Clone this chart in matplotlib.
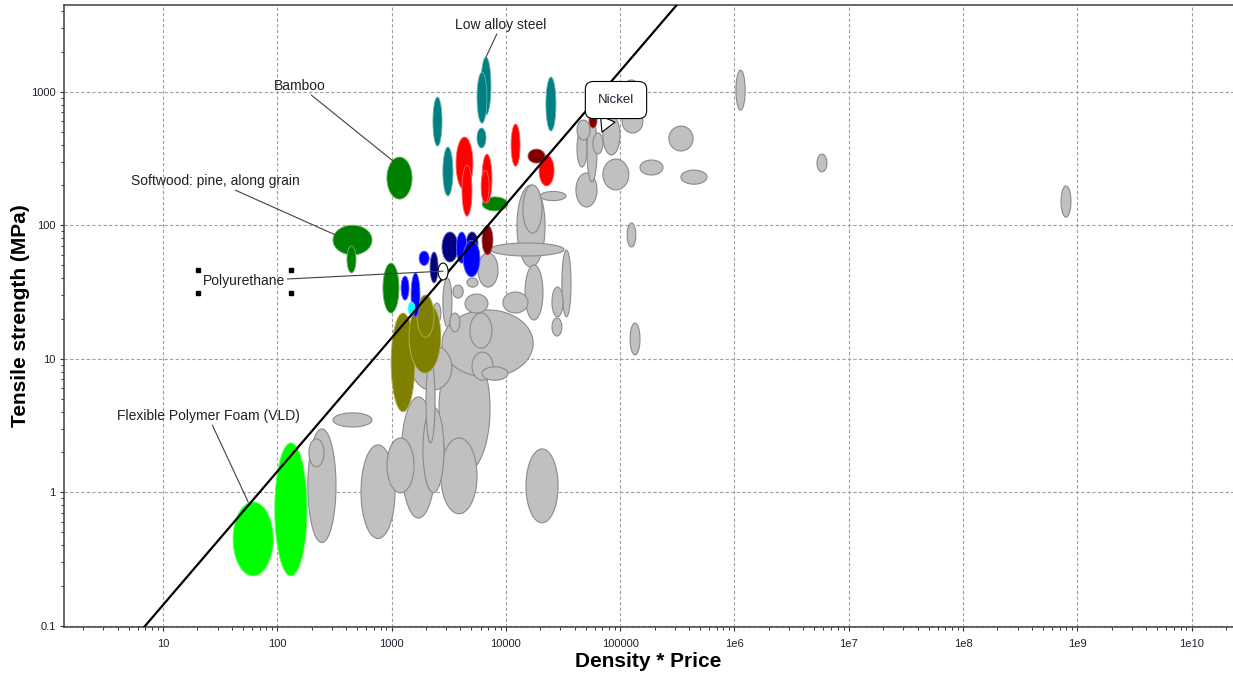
import numpy as np
import matplotlib.pyplot as plt
from matplotlib import colors as mcolors
from matplotlib.ticker import FixedLocator, LogLocator, NullFormatter
from matplotlib.transforms import offset_copy

plt.rcParams['font.family'] = ['Liberation Sans', 'DejaVu Sans']

# each bubble: (density*price low, high, tensile strength low, high)
grey = [
    (185, 326, 0.42, 2.98), (189, 256, 1.55, 2.51), (307, 674, 3.08, 3.93),
    (540, 1070, 0.45, 2.26), (912, 1570, 0.99, 2.55), (1210, 2440, 0.64, 5.17),
    (1880, 2870, 0.99, 4.34), (2000, 2400, 2.34, 9.77), (2700, 5590, 0.69, 2.55),
    (2600, 7260, 1.39, 12.7), (15000, 28600, 0.59, 2.11), (2760, 17300, 7.3, 23.2),
    (1510, 3370, 5.8, 12.7), (4850, 7550, 12.0, 22.0), (5050, 7710, 6.9, 11.2),
    (6180, 10400, 6.9, 8.7), (4390, 6970, 22.0, 30.5), (9420, 15600, 22.0, 31.6),
    (14700, 21100, 19.5, 50.4), (25300, 31600, 20.6, 34.4), (30900, 37100, 20.6, 65.2),
    (25300, 30900, 14.8, 20.2), (122000, 149000, 10.7, 18.5), (115000, 137000, 68.7, 104),
    (12500, 22000, 48.6, 200), (14100, 20700, 87.5, 200), (7260, 32200, 58.8, 73.6),
    (19900, 33600, 153, 179), (5700, 8530, 34.4, 62), (2810, 3370, 17.3, 40.2),
    (3440, 4230, 28.5, 35.6), (3240, 3960, 15.9, 22), (4570, 5700, 34.4, 40.2),
    (2300, 2700, 18.5, 26.1),
    (41900, 54400, 435, 614), (41900, 51200, 273, 516), (51200, 62700, 211, 646),
    (57800, 70600, 342, 491), (70600, 99500, 336, 668), (41000, 62700, 137, 246),
    (70600, 119000, 184, 313), (104000, 158000, 491, 729), (99500, 158000, 593, 1225),
    (267000, 434000, 360, 553), (149000, 237000, 238, 308), (340000, 575000, 203, 259),
    (1.03e6, 1.24e6, 728, 1450), (5.27e6, 6.44e6, 251, 341), (7.2e8, 8.79e8, 115, 197),
]
olive = [(990, 1600, 4.0, 22), (1420, 2700, 7.8, 27.5), (1670, 2350, 14.5, 30)]
lime = [(41, 92, 0.236, 0.845), (95, 182, 0.236, 2.34)]
dark_green = [(910, 1510, 157, 324), (307, 674, 60, 100), (407, 488, 44, 70),
              (840, 1160, 22, 52), (6200, 10400, 128, 163)]
teal = [(2300, 2760, 392, 912), (2810, 3440, 166, 385), (6050, 7400, 670, 1820),
        (5590, 6820, 582, 1400), (5590, 6700, 379, 535), (22400, 27400, 508, 1288)]
red = [(3660, 5150, 184, 458), (4130, 5050, 117, 282), (6180, 7550, 147, 341),
       (6070, 7130, 147, 258), (11100, 13300, 277, 573), (19500, 26400, 197, 336)]
dark_red = [(15600, 22000, 292, 372), (6180, 7710, 60, 100), (53300, 62700, 535, 692)]
navy = [(2760, 3810, 53, 89), (4490, 5700, 59, 89), (2170, 2550, 37, 63)]
blue = [(3690, 4570, 52, 89), (4230, 5930, 41, 77), (1740, 2130, 50, 64),
        (1210, 1420, 27.5, 41.6), (1480, 1770, 20.6, 43.9)]
cyan = [(1390, 1600, 21.2, 26.6)]
polyurethane = (2550, 3120, 38.9, 52.1)

# selection guide: strength = c * density * price
index_c = 0.0143

x_ticks = [10, 100, 1000, 1e4, 1e5, 1e6, 1e7, 1e8, 1e9, 1e10]
x_labels = ['10', '100', '1000', '10000', '100000', '1e6', '1e7', '1e8', '1e9', '1e10']
y_ticks = [0.1, 1, 10, 100, 1000]
y_labels = ['0.1', '1', '10', '100', '1000']

t = np.linspace(0, 2 * np.pi, 150)


def bubble(ax, b, fc, ec, lw=0.6, z=2):
    lx0, lx1, ly0, ly1 = np.log10(b)
    cx, rx = (lx0 + lx1) / 2, (lx1 - lx0) / 2
    cy, ry = (ly0 + ly1) / 2, (ly1 - ly0) / 2
    ax.fill(10 ** (cx + rx * np.cos(t)), 10 ** (cy + ry * np.sin(t)),
            facecolor=fc, edgecolor=ec, linewidth=lw, zorder=z)


def lighter(c, f=0.4):
    r = np.array(mcolors.to_rgb(c))
    return tuple(r + (1 - r) * f)


fig = plt.figure(figsize=(12.33, 6.76), dpi=100)
ax = fig.add_axes([0.0519, 0.0725, 0.9481, 0.92])
ax.set_xscale('log')
ax.set_yscale('log')
ax.set_xlim(1.36, 2.3e10)
ax.set_ylim(0.0978, 4460)

area = lambda b: np.log10(b[1] / b[0]) * np.log10(b[3] / b[2])
for b in sorted(grey, key=area, reverse=True):
    bubble(ax, b, '#c0c0c0', '#8a8a8a', 0.8, 2)

groups = [(olive, '#808000'), (lime, '#00ff00'), (dark_green, '#008000'),
          (teal, '#008080'), (red, '#ff0000'), (dark_red, '#800000'),
          (navy, '#000080'), (blue, '#0000ff'), (cyan, '#00ffff')]
for items, col in groups:
    for b in items:
        bubble(ax, b, col, lighter(col), 0.6, 3)

xs = np.array([1.0, 1e6])
ax.plot(xs, index_c * xs, color='black', lw=1.6, zorder=5)
bubble(ax, polyurethane, 'white', 'black', 0.8, 6)

# axes styling
ax.xaxis.set_major_locator(FixedLocator(x_ticks))
ax.set_xticklabels(x_labels)
ax.yaxis.set_major_locator(FixedLocator(y_ticks))
ax.set_yticklabels(y_labels)
ax.xaxis.set_minor_locator(LogLocator(base=10, subs=np.arange(2, 10), numticks=30))
ax.yaxis.set_minor_locator(LogLocator(base=10, subs=np.arange(2, 10), numticks=30))
ax.xaxis.set_minor_formatter(NullFormatter())
ax.yaxis.set_minor_formatter(NullFormatter())
ax.tick_params(which='major', length=3, width=0.8, color='#333333',
               labelsize=8, labelcolor='#202030')
ax.tick_params(which='minor', length=2.2, width=0.7, color='#333333')
ax.tick_params(axis='x', which='major', pad=6)
ax.tick_params(axis='y', which='major', pad=3)
ax.grid(True, which='major', color='#a0a0a0', lw=0.8, ls=(0, (3, 2)), zorder=1)
ax.set_axisbelow(True)
for s in ['left', 'bottom', 'top']:
    ax.spines[s].set_color('#404040')
    ax.spines[s].set_linewidth(1.1)
ax.spines['right'].set_visible(False)

ax.set_xlabel('Density * Price', fontsize=15, fontweight='bold')
ax.xaxis.set_label_coords(0.5, -0.04)
ax.set_ylabel('Tensile strength (MPa)', fontsize=15, fontweight='bold', va='center')
ax.yaxis.set_label_coords(-0.0376, 0.5)

# callout labels
line_kw = dict(arrowstyle='-', color='#404040', lw=0.8, shrinkA=0, shrinkB=0)
box_kw = dict(boxstyle='square,pad=0.15', fc='none', ec='none')
labels = [
    ('Low alloy steel', (6700, 1820), (9060, 3160)),
    ('Bamboo', (1028, 303), (158, 1104)),
    ('Softwood: pine, along grain', (320, 84.9), (28.5, 214)),
    ('Polyurethane', (2820, 45.3), (51.2, 38.1)),
    ('Flexible Polymer Foam (VLD)', (55.6, 0.845), (24.8, 3.72)),
]
for txt, xy, xyt in labels:
    ax.annotate(txt, xy=xy, xytext=xyt, fontsize=10, color='#202020',
                ha='center', va='center', bbox=box_kw, arrowprops=line_kw, zorder=7)

# edit handles around the Polyurethane label
for dx, dy in [(-33.5, 8.3), (33.5, 8.3), (-33.5, -8.3), (33.5, -8.3)]:
    tr = offset_copy(ax.transData, fig=fig, x=dx, y=dy, units='points')
    ax.plot([51.2], [38.1], 's', ms=3, color='black', transform=tr, zorder=8)

ax.annotate('Nickel', xy=(69300, 499), xytext=(91900, 867), fontsize=9.5,
            color='#202030', ha='center', va='center', zorder=9,
            bbox=dict(boxstyle='round,pad=0.95,rounding_size=0.6', fc='white',
                      ec='black', lw=0.8),
            arrowprops=dict(arrowstyle='wedge,tail_width=1.2,shrink_factor=0.5',
                            fc='white', ec='black', lw=0.8, shrinkA=0, shrinkB=0))

fig.savefig('out.png', dpi=100)
